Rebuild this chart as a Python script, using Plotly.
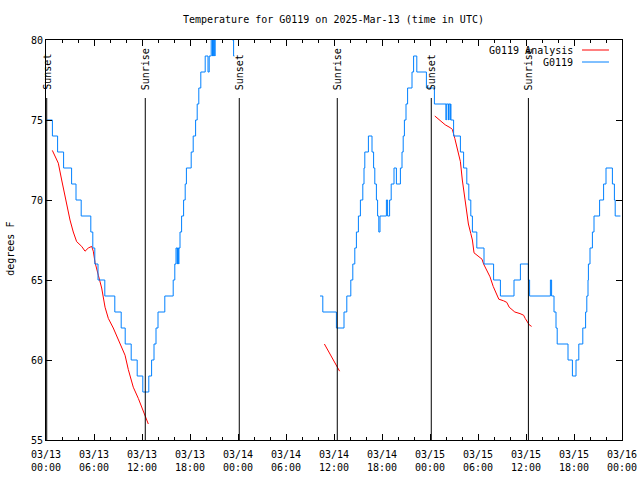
import pandas as pd
import plotly.graph_objects as go

START = pd.Timestamp("2025-03-13 00:00")

# Observations (hours since 03/13 00:00 UTC, deg F) - None = gap
obs_hours = [0.08, 0.8, 1.45, 2.2, 3.2, 3.75, 4.4, 5.6, 5.85, 6.1, 6.5, 7.35, 8.6, 9.4, 9.9,
             10.65, 11.4, 12.1, 12.85, 13.2, 13.5, 13.75, 14.0, 14.85, 15.9, 16.1, 16.25, 16.4,
             16.43, 16.58, 16.61, 16.75, 16.95, 17.2, 17.4, 17.55, 18.15, 18.4, 18.7, 18.9, 19.1,
             19.35, 19.9, 20.25, 20.4, 20.65, 20.8, 20.83, 20.96, 20.99, 21.1, 21.13, 23.3, 23.45,
             23.55,
             None,
             34.25, 34.6, 36.3, 37.25, 37.6, 38.1, 38.35, 38.6, 38.8, 39.05, 39.3, 39.6, 39.75,
             39.85, 40.3, 40.75, 40.95, 41.1, 41.3, 41.45, 41.6, 41.75, 42.55, 42.7, 42.95, 43.15,
             43.5, 43.8, 44.3, 44.5, 44.65, 44.8, 45.0, 45.2, 45.75, 45.95, 46.35, 47.55, 48.55,
             50.0, 50.03, 50.28, 50.31, 50.5, 50.53, 50.62, 50.95, 51.8, 52.2, 52.6, 52.85, 53.1,
             53.3, 53.85, 54.75, 55.95, 56.8, 58.5, 59.3, 60.3, 60.45, 63.05, 63.2, 63.5, 63.75,
             63.9, 65.25, 65.8, 66.25, 66.6, 67.1, 67.45, 67.6, 67.75, 67.8, 68.0, 68.3, 68.5,
             69.2, 69.7, 70.0, 70.8, 71.05, 71.15, 71.8]
obs_temps = [75, 74, 73, 72, 71, 70, 69, 68, 67, 66, 65, 64, 63, 62, 61,
             60, 59, 58, 59, 60, 61, 62, 63, 64, 65, 66, 67, 66,
             67, 66, 67, 68, 69, 70, 71, 72, 73, 74, 75, 76, 77,
             78, 79, 78, 79, 81, 79, 81, 79, 81, 79, 81, 80, 79,
             79,
             None,
             64, 63, 62, 63, 64, 65, 66, 67, 68, 69, 70, 71, 72,
             73, 74, 73, 72, 71, 70, 69, 68, 69, 70, 69, 70, 71,
             72, 71, 72, 73, 74, 75, 76, 77, 78, 79, 78, 77, 76,
             75, 76, 75, 76, 75, 76, 75, 74, 73, 72, 71, 70, 69,
             68, 67, 66, 65, 64, 65, 66, 65, 64, 65, 64, 63, 62,
             61, 60, 59, 60, 61, 62, 63, 64, 65, 66, 67, 68, 69,
             70, 71, 72, 71, 70, 69, 69]

# Analysis
ana_hours = [0.79, 1.54, 1.96, 2.38, 3.0, 3.41, 3.63, 3.83, 4.46, 4.88, 5.29, 5.71, 5.91, 6.13,
             6.54, 6.96, 7.38, 7.79, 8.41, 9.04, 9.88, 10.29, 10.91, 11.54, 12.16, 12.5, 12.79,
             None,
             34.8, 35.5, 36.1, 36.7,
             None,
             48.6, 49.25, 49.9, 50.6, 50.8, 51.1, 51.5, 51.8, 52.04, 52.3, 52.5, 52.8, 53.1,
             53.3, 53.5, 54.0, 54.5, 54.7, 55.1, 55.5, 55.9, 56.3, 56.6, 57.2, 57.6, 57.9, 58.4,
             58.6, 59.25, 59.7, 59.9, 60.2, 60.4, 60.7]
ana_temps = [73.1, 72.3, 71.25, 70.2, 68.75, 68.0, 67.6, 67.4, 67.1, 66.8, 67.0, 67.1, 66.8, 66.1,
             65.3, 64.5, 63.3, 62.6, 62.0, 61.25, 60.3, 59.4, 58.3, 57.6, 56.8, 56.25, 56.0,
             None,
             61.0, 60.4, 59.8, 59.3,
             None,
             75.25, 75.0, 74.7, 74.5, 74.4, 73.85, 73.1, 72.4, 71.25, 70.2, 69.4, 68.5, 67.9,
             67.5, 66.7, 66.5, 66.3, 66.0, 65.6, 65.2, 64.6, 64.1, 63.8, 63.7, 63.6, 63.3, 63.1,
             63.0, 62.9, 62.8, 62.6, 62.3, 62.2, 62.1]

event_hours = [0.09, 12.41, 24.16, 36.41, 48.16, 60.3]
event_labels = ["Sunset", "Sunrise", "Sunset", "Sunrise", "Sunset", "Sunrise"]

y_ticks = [55, 60, 65, 70, 75, 80]


def to_time(hours):
    return [None if h is None else START + pd.Timedelta(hours=h) for h in hours]


FONT = "DejaVu Sans Mono"
BLUE = "#0080ff"
RED = "#ff0000"

fig = go.Figure()
fig.add_trace(go.Scatter(x=to_time(ana_hours), y=ana_temps, mode="lines",
                         line=dict(color=RED, width=1), name="G0119 Analysis",
                         connectgaps=False))
fig.add_trace(go.Scatter(x=to_time(obs_hours), y=obs_temps, mode="lines",
                         line=dict(color=BLUE, width=1, shape="hv"), name="G0119",
                         connectgaps=False))

for h, lab in zip(event_hours, event_labels):
    t = START + pd.Timedelta(hours=h)
    fig.add_shape(type="line", xref="x", yref="paper", x0=t, x1=t, y0=0, y1=0.855,
                  line=dict(color="black", width=1))
    fig.add_annotation(x=t, xref="x", yref="paper", y=0.87, text=lab, textangle=-90,
                       showarrow=False, xanchor="center", yanchor="bottom",
                       font=dict(family=FONT, size=10, color="black"))

# legend (gnuplot style: text right, sample line)
for (name, color, yp) in [("G0119 Analysis", RED, 0.975), ("G0119", BLUE, 0.945)]:
    fig.add_annotation(x=0.919, y=yp, xref="paper", yref="paper", text=name, showarrow=False,
                       xanchor="right", yanchor="middle",
                       font=dict(family=FONT, size=10, color="black"))
    fig.add_shape(type="line", xref="paper", yref="paper", x0=0.9306, x1=0.9774, y0=yp, y1=yp,
                  line=dict(color=color, width=1))

# y-axis label
fig.add_annotation(x=-0.0608, y=0.478, xref="paper", yref="paper", text="degrees F",
                   textangle=-90, showarrow=False, xanchor="center", yanchor="middle",
                   font=dict(family=FONT, size=10, color="black"))

fig.update_layout(
    width=640, height=480,
    margin=dict(l=46, r=18, t=40, b=40, autoexpand=False),
    paper_bgcolor="white", plot_bgcolor="white",
    showlegend=False,
    font=dict(family=FONT, size=10, color="black"),
    title=dict(text="Temperature for G0119 on 2025-Mar-13 (time in UTC)", x=0.521, xanchor="center",
               y=0.96, yanchor="middle", font=dict(family=FONT, size=10, color="black")),
)
fig.update_xaxes(
    type="date", automargin=False,
    range=[START, START + pd.Timedelta(hours=72)],
    dtick=6 * 3600 * 1000, tick0=START,
    tickformat="%m/%d<br>%H:%M",
    ticks="inside", ticklen=6, tickcolor="black", ticklabelstandoff=5,
    ticklabeloverflow="allow",
    minor=dict(ticks="inside", ticklen=3, dtick=2 * 3600 * 1000, tick0=START, tickcolor="black"),
    showline=True, linecolor="black", linewidth=1, mirror="allticks",
    showgrid=False, zeroline=False,
    tickfont=dict(family=FONT, size=10, color="black"),
)
fig.update_yaxes(
    range=[55, 80], tickvals=y_ticks, ticktext=[str(v) for v in y_ticks], automargin=False,
    ticks="inside", ticklen=6, tickcolor="black",
    showline=True, linecolor="black", linewidth=1, mirror="allticks",
    showgrid=False, zeroline=False,
    tickfont=dict(family=FONT, size=10, color="black"),
)

# remove the browser's default 8px page margin so the figure sits at the window's corner
fig.write_html("out.html", config={"displayModeBar": False},
               post_script="document.body.style.margin='0px';document.body.style.overflow='hidden';")
